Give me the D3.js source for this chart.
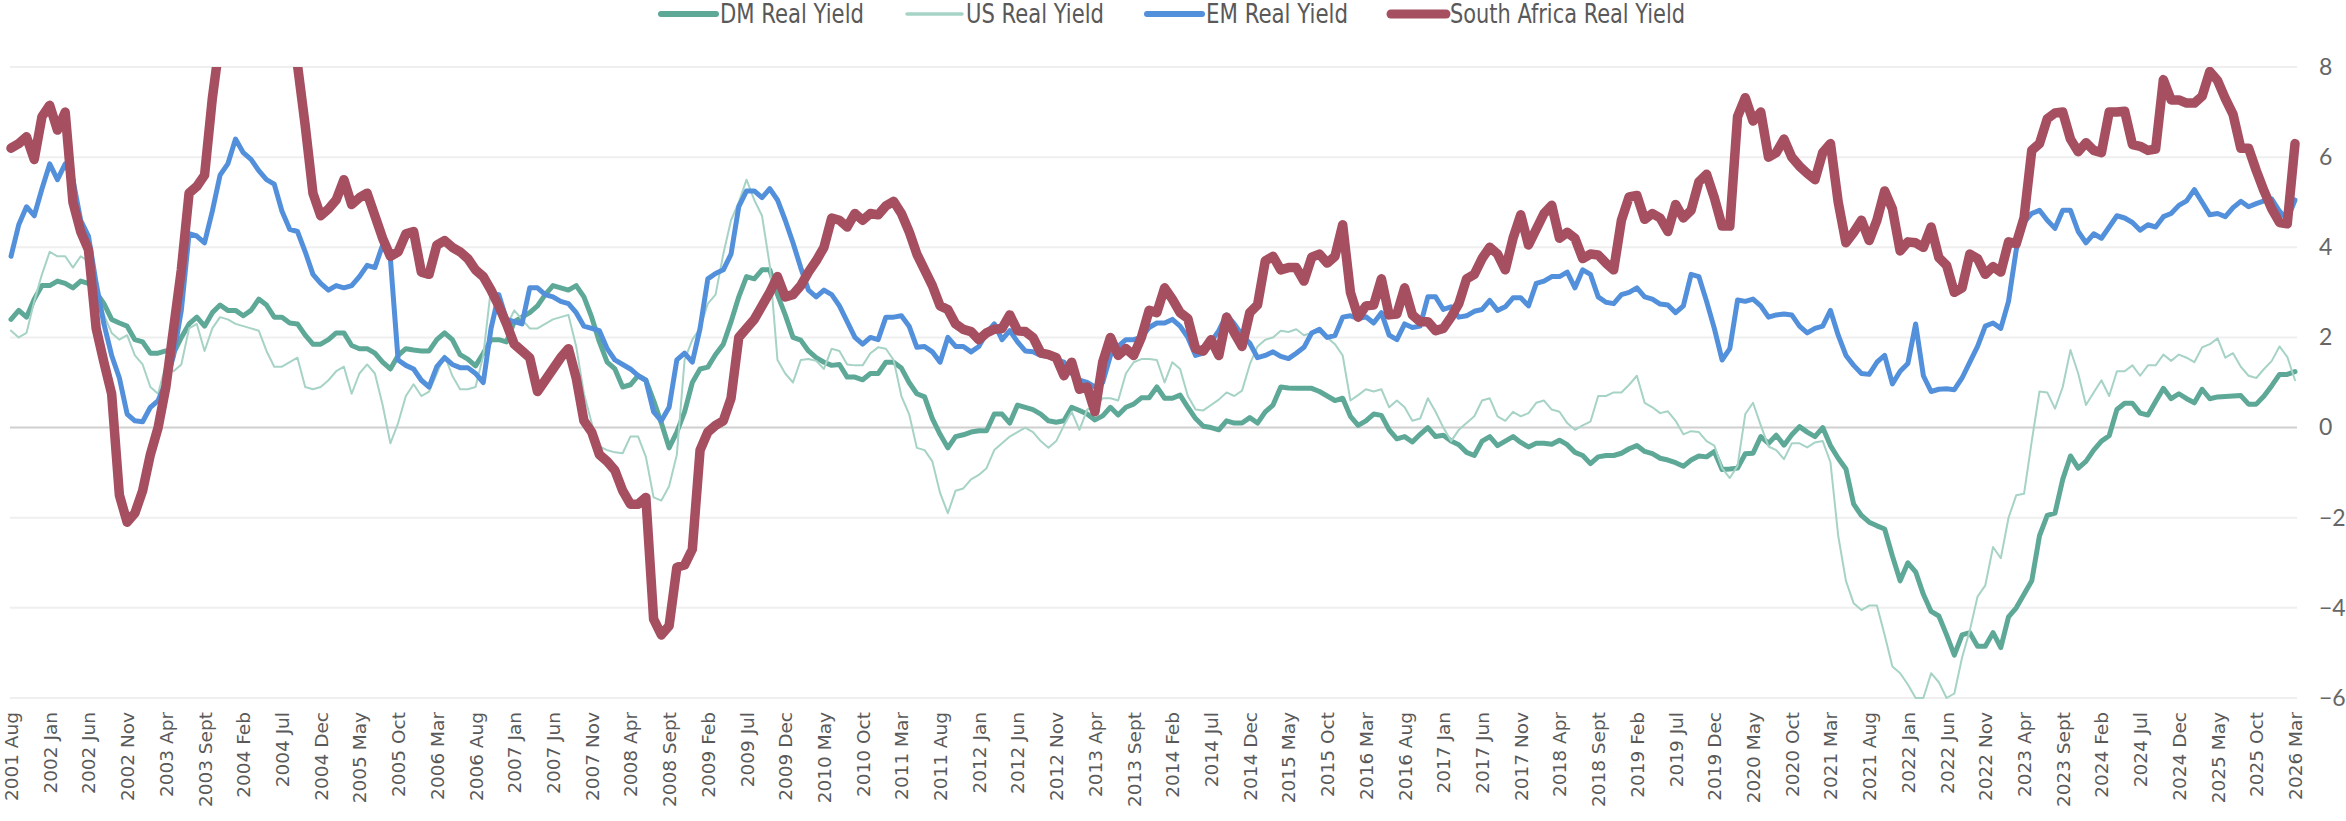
<!DOCTYPE html>
<html>
<head>
<meta charset="utf-8">
<title>Real Yields</title>
<script src="https://cdn.jsdelivr.net/npm/d3@7"></script>
<style>
  html, body { margin: 0; padding: 0; background: #fff; overflow: hidden; }
  svg { display: block; }
  .legend text { fill: #595959; font-family: 'Liberation Sans Narrow', 'DejaVu Sans Condensed', 'Roboto', sans-serif; font-size: 26px; }
</style>
</head>
<body>
<script>
// monthly, 2001 Aug .. 2026 Mar
const startYear = 2001, startMonth = 7, nMonths = 296;
const monthNames = ['Jan', 'Feb', 'Mar', 'Apr', 'May', 'Jun', 'Jul', 'Aug', 'Sept', 'Oct', 'Nov', 'Dec'];

const tickLabels = ['2001 Aug', '2002 Jan', '2002 Jun', '2002 Nov', '2003 Apr', '2003 Sept', '2004 Feb', '2004 Jul',
  '2004 Dec', '2005 May', '2005 Oct', '2006 Mar', '2006 Aug', '2007 Jan', '2007 Jun', '2007 Nov', '2008 Apr',
  '2008 Sept', '2009 Feb', '2009 Jul', '2009 Dec', '2010 May', '2010 Oct', '2011 Mar', '2011 Aug', '2012 Jan',
  '2012 Jun', '2012 Nov', '2013 Apr', '2013 Sept', '2014 Feb', '2014 Jul', '2014 Dec', '2015 May', '2015 Oct',
  '2016 Mar', '2016 Aug', '2017 Jan', '2017 Jun', '2017 Nov', '2018 Apr', '2018 Sept', '2019 Feb', '2019 Jul',
  '2019 Dec', '2020 May', '2020 Oct', '2021 Mar', '2021 Aug', '2022 Jan', '2022 Jun', '2022 Nov', '2023 Apr',
  '2023 Sept', '2024 Feb', '2024 Jul', '2024 Dec', '2025 May', '2025 Oct', '2026 Mar'];

const yTicks = [-6, -4, -2, 0, 2, 4, 6, 8];

const dmReal = [
  2.4, 2.6, 2.45, 2.85, 3.15, 3.15, 3.25, 3.2, 3.1, 3.25,
  3.2, 3.0, 2.75, 2.4, 2.32, 2.25, 1.95, 1.9, 1.65, 1.65,
  1.7, 1.65, 2.0, 2.3, 2.45, 2.25, 2.55, 2.72, 2.6, 2.6,
  2.48, 2.6, 2.85, 2.72, 2.45, 2.45, 2.32, 2.3, 2.05, 1.85,
  1.85, 1.95, 2.1, 2.1, 1.82, 1.75, 1.75, 1.65, 1.45, 1.3,
  1.6, 1.75, 1.72, 1.7, 1.7, 1.95, 2.1, 1.95, 1.62, 1.52,
  1.37, 1.65, 1.95, 1.95, 1.9, 2.35, 2.45, 2.55, 2.7, 2.95,
  3.15, 3.1, 3.05, 3.15, 2.9, 2.45, 1.9, 1.45, 1.3, 0.9,
  0.95, 1.15, 1.05, 0.6, 0.1, -0.45, -0.1, 0.35, 1.0, 1.3,
  1.34, 1.62, 1.85, 2.35, 2.9, 3.35, 3.3, 3.5, 3.5, 2.95,
  2.5, 2.0, 1.94, 1.7, 1.55, 1.45, 1.38, 1.4, 1.12, 1.12,
  1.06, 1.2, 1.2, 1.45, 1.45, 1.32, 1.0, 0.75, 0.68, 0.2,
  -0.15, -0.45, -0.2, -0.16, -0.1, -0.07, -0.07, 0.3, 0.3, 0.1,
  0.5, 0.45, 0.4, 0.3, 0.15, 0.12, 0.15, 0.45, 0.38, 0.3,
  0.17, 0.26, 0.45, 0.28, 0.45, 0.52, 0.66, 0.66, 0.9, 0.65,
  0.65, 0.72, 0.45, 0.2, 0.03, 0.0, -0.05, 0.15, 0.1, 0.1,
  0.22, 0.1, 0.35, 0.5, 0.9, 0.88, 0.87, 0.87, 0.87, 0.8,
  0.7, 0.6, 0.65, 0.25, 0.05, 0.15, 0.3, 0.27, -0.05, -0.25,
  -0.2, -0.32, -0.15, 0.0, -0.2, -0.17, -0.3, -0.38, -0.55, -0.62,
  -0.3, -0.2, -0.4, -0.3, -0.2, -0.33, -0.43, -0.35, -0.35, -0.37,
  -0.28, -0.38, -0.55, -0.62, -0.8, -0.65, -0.62, -0.62, -0.57, -0.47,
  -0.4, -0.53, -0.58, -0.68, -0.72, -0.78, -0.86, -0.72, -0.63, -0.65,
  -0.53, -0.93, -0.92, -0.9, -0.58, -0.57, -0.2, -0.35, -0.17, -0.39,
  -0.16, 0.02, -0.1, -0.2, 0.0, -0.4, -0.68, -0.92, -1.7, -1.95,
  -2.1, -2.18, -2.25, -2.85, -3.4, -3.0, -3.2, -3.7, -4.08, -4.18,
  -4.6, -5.05, -4.6, -4.55, -4.85, -4.85, -4.55, -4.88, -4.2, -4.0,
  -3.7, -3.4, -2.4, -1.95, -1.9, -1.15, -0.63, -0.9, -0.75, -0.5,
  -0.3, -0.18, 0.4, 0.54, 0.54, 0.32, 0.28, 0.58, 0.87, 0.64,
  0.75, 0.64, 0.55, 0.85, 0.64, 0.68, 0.69, 0.7, 0.71, 0.52,
  0.52, 0.7, 0.93, 1.18, 1.18, 1.24];

const usReal = [
  2.15, 2.0, 2.1, 2.8, 3.4, 3.9, 3.8, 3.8, 3.55, 3.8,
  3.7, 3.1, 2.5, 2.1, 1.95, 2.05, 1.6, 1.4, 0.9, 0.75,
  1.4, 1.25, 1.4, 2.2, 2.3, 1.7, 2.2, 2.45, 2.4, 2.3,
  2.25, 2.2, 2.15, 1.7, 1.35, 1.35, 1.45, 1.55, 0.9, 0.85,
  0.9, 1.05, 1.25, 1.35, 0.75, 1.2, 1.4, 1.2, 0.5, -0.35,
  0.1, 0.7, 0.96, 0.7, 0.8, 1.2, 1.6, 1.15, 0.85, 0.85,
  0.9, 1.6, 3.1, 2.6, 2.25, 2.6, 2.4, 2.2, 2.2, 2.3,
  2.4, 2.45, 2.5, 1.8, 0.75, 0.1, -0.42, -0.5, -0.55, -0.57,
  -0.2, -0.2, -0.65, -1.55, -1.62, -1.3, -0.6, 1.5, 1.95, 2.2,
  2.75, 2.95, 3.85, 4.6, 5.0, 5.5, 5.05, 4.7, 3.6, 1.5,
  1.2, 1.0, 1.5, 1.52, 1.48, 1.3, 1.75, 1.7, 1.4, 1.38,
  1.38, 1.65, 1.78, 1.75, 1.5, 0.7, 0.3, -0.45, -0.5, -0.75,
  -1.45, -1.9, -1.4, -1.35, -1.15, -1.05, -0.9, -0.5, -0.35, -0.2,
  -0.1, 0.0, -0.1, -0.3, -0.45, -0.3, 0.05, 0.35, -0.05, 0.4,
  0.45, 0.65, 0.65, 0.6, 1.2, 1.45, 1.52, 1.52, 1.5, 1.0,
  1.45, 1.3, 0.7, 0.4, 0.38, 0.5, 0.62, 0.78, 0.7, 0.82,
  1.4, 1.8, 1.95, 2.0, 2.15, 2.12, 2.18, 2.05, 2.1, 2.12,
  2.0, 1.85, 1.6, 0.6, 0.72, 0.85, 0.8, 0.85, 0.45, 0.6,
  0.45, 0.15, 0.2, 0.65, 0.35, 0.0, -0.3, -0.05, 0.1, 0.25,
  0.6, 0.65, 0.25, 0.15, 0.35, 0.25, 0.32, 0.55, 0.6, 0.4,
  0.35, 0.1, -0.05, 0.05, 0.13, 0.7, 0.7, 0.78, 0.78, 0.95,
  1.15, 0.55, 0.45, 0.32, 0.36, 0.15, -0.15, -0.08, -0.1, -0.3,
  -0.4, -0.9, -1.12, -0.85, 0.3, 0.55, 0.05, -0.42, -0.5, -0.7,
  -0.35, -0.35, -0.44, -0.33, -0.3, -0.77, -2.4, -3.4, -3.9, -4.05,
  -3.95, -3.95, -4.6, -5.3, -5.45, -5.7, -6.0, -6.0, -5.45, -5.65,
  -6.0, -5.9, -5.1, -4.5, -3.75, -3.5, -2.65, -2.9, -2.0, -1.5,
  -1.47, -0.3, 0.8, 0.78, 0.42, 0.9, 1.72, 1.2, 0.5, 0.78,
  1.05, 0.7, 1.25, 1.25, 1.38, 1.15, 1.38, 1.38, 1.62, 1.48,
  1.62, 1.55, 1.45, 1.78, 1.85, 1.98, 1.55, 1.65, 1.35, 1.15,
  1.1, 1.3, 1.48, 1.8, 1.57, 1.05];

const emReal = [
  3.8, 4.5, 4.9, 4.7, 5.3, 5.85, 5.5, 5.85, 5.5, 4.6,
  4.25, 3.2, 2.3, 1.6, 1.1, 0.3, 0.15, 0.13, 0.45, 0.6,
  1.0, 1.6, 2.6, 4.3, 4.25, 4.1, 4.8, 5.6, 5.85, 6.4,
  6.1, 5.95, 5.7, 5.5, 5.4, 4.8, 4.4, 4.35, 3.9, 3.4,
  3.2, 3.05, 3.15, 3.1, 3.15, 3.35, 3.6, 3.55, 4.05, 3.75,
  1.5, 1.38, 1.3, 1.05, 0.9, 1.35, 1.55, 1.4, 1.33, 1.33,
  1.2, 1.0, 2.2, 2.95, 2.4, 2.35, 2.3, 3.1, 3.1, 2.95,
  2.9, 2.8, 2.75, 2.55, 2.25, 2.2, 2.15, 1.75, 1.5, 1.4,
  1.3, 1.15, 1.05, 0.35, 0.15, 0.45, 1.5, 1.65, 1.45, 2.2,
  3.3, 3.42, 3.5, 3.85, 4.9, 5.25, 5.25, 5.1, 5.3, 5.05,
  4.6, 4.1, 3.55, 3.05, 2.9, 3.05, 2.95, 2.7, 2.35, 2.0,
  1.85, 2.0, 1.95, 2.45, 2.45, 2.48, 2.25, 1.78, 1.8, 1.68,
  1.45, 2.0, 1.8, 1.8, 1.68, 1.8, 2.1, 2.3, 1.95, 2.15,
  1.9, 1.7, 1.68, 1.6, 1.58, 1.5, 1.45, 1.2, 1.05, 1.0,
  0.9, 1.0, 1.6, 1.8, 1.95, 1.95, 2.0, 2.22, 2.32, 2.32,
  2.4, 2.25, 2.0, 1.6, 1.65, 1.9, 2.15, 2.5, 2.3, 2.05,
  1.87, 1.55, 1.6, 1.68, 1.58, 1.53, 1.65, 1.78, 2.1, 2.18,
  2.0, 2.04, 2.45, 2.48, 2.42, 2.46, 2.32, 2.55, 2.05, 1.95,
  2.3, 2.22, 2.25, 2.9, 2.9, 2.62, 2.68, 2.45, 2.48, 2.58,
  2.62, 2.82, 2.6, 2.68, 2.88, 2.88, 2.7, 3.2, 3.25, 3.35,
  3.35, 3.45, 3.1, 3.5, 3.4, 2.9, 2.78, 2.75, 2.95, 3.0,
  3.1, 2.9, 2.85, 2.74, 2.72, 2.55, 2.7, 3.4, 3.35, 2.8,
  2.2, 1.5, 1.75, 2.83, 2.8, 2.85, 2.7, 2.45, 2.5, 2.52,
  2.5, 2.25, 2.1, 2.2, 2.25, 2.6, 2.05, 1.6, 1.38, 1.2,
  1.18, 1.45, 1.6, 0.97, 1.25, 1.42, 2.3, 1.15, 0.8, 0.85,
  0.86, 0.84, 1.1, 1.45, 1.8, 2.25, 2.32, 2.2, 2.8, 3.95,
  4.55, 4.75, 4.82, 4.6, 4.42, 4.82, 4.82, 4.35, 4.1, 4.3,
  4.2, 4.45, 4.7, 4.65, 4.55, 4.38, 4.5, 4.45, 4.68, 4.75,
  4.93, 5.03, 5.28, 5.0, 4.72, 4.75, 4.68, 4.88, 5.02, 4.9,
  4.97, 5.03, 5.07, 4.8, 4.62, 5.05];

const saReal = [
  6.2, 6.3, 6.45, 5.95, 6.9, 7.15, 6.6, 7.0, 5.0, 4.35,
  3.95, 2.2, 1.45, 0.75, -1.5, -2.1, -1.9, -1.4, -0.6, 0.0,
  0.9, 2.2, 3.5, 5.2, 5.35, 5.6, 7.3, 8.6, 9.5, 10.2,
  10.8, 11.0, 10.6, 10.0, 9.6, 9.2, 8.8, 8.05, 6.7, 5.2,
  4.7, 4.85, 5.05, 5.5, 4.95, 5.1, 5.2, 4.7, 4.2, 3.8,
  3.9, 4.3, 4.35, 3.45, 3.4, 4.05, 4.15, 4.0, 3.9, 3.75,
  3.5, 3.35, 3.05, 2.7, 2.3, 1.85, 1.7, 1.55, 0.8, 1.05,
  1.3, 1.55, 1.75, 1.1, 0.15, -0.1, -0.6, -0.75, -0.95, -1.4,
  -1.7, -1.7, -1.55, -4.25, -4.6, -4.4, -3.1, -3.05, -2.7, -0.5,
  -0.1, 0.05, 0.15, 0.65, 2.0, 2.2, 2.4, 2.7, 3.0, 3.35,
  2.9, 2.95, 3.15, 3.45, 3.7, 4.0, 4.65, 4.6, 4.45, 4.75,
  4.6, 4.75, 4.72, 4.92, 5.02, 4.75, 4.35, 3.85, 3.5, 3.15,
  2.7, 2.62, 2.3, 2.18, 2.13, 1.95, 2.1, 2.18, 2.2, 2.5,
  2.15, 2.13, 2.0, 1.66, 1.62, 1.55, 1.15, 1.45, 0.85, 0.9,
  0.35, 1.45, 2.0, 1.6, 1.75, 1.6, 2.0, 2.6, 2.55, 3.1,
  2.85, 2.55, 2.42, 1.75, 1.7, 1.95, 1.6, 2.45, 2.1, 1.8,
  2.55, 2.72, 3.7, 3.8, 3.5, 3.55, 3.55, 3.25, 3.78, 3.85,
  3.65, 3.8, 4.5, 3.0, 2.45, 2.7, 2.72, 3.3, 2.5, 2.52,
  3.1, 2.5, 2.35, 2.35, 2.15, 2.2, 2.45, 2.75, 3.3, 3.4,
  3.75, 4.0, 3.85, 3.5, 4.2, 4.72, 4.05, 4.4, 4.75, 4.93,
  4.2, 4.33, 4.2, 3.75, 3.85, 3.83, 3.65, 3.5, 4.6, 5.12,
  5.15, 4.62, 4.75, 4.65, 4.35, 4.95, 4.65, 4.82, 5.45, 5.62,
  5.1, 4.47, 4.47, 6.9, 7.32, 6.8, 7.0, 6.0, 6.1, 6.4,
  6.0, 5.8, 5.64, 5.5, 6.1, 6.3, 5.0, 4.1, 4.33, 4.6,
  4.15, 4.6, 5.25, 4.85, 3.92, 4.12, 4.1, 4.0, 4.45, 3.77,
  3.6, 3.0, 3.1, 3.85, 3.75, 3.4, 3.57, 3.45, 4.12, 4.08,
  4.65, 6.15, 6.3, 6.85, 6.98, 7.0, 6.4, 6.12, 6.32, 6.15,
  6.1, 7.0, 7.0, 7.02, 6.28, 6.24, 6.15, 6.18, 7.72, 7.27,
  7.27, 7.2, 7.2, 7.35, 7.9, 7.7, 7.3, 6.95, 6.2, 6.2,
  5.7, 5.25, 4.85, 4.55, 4.52, 6.3];

// month keys in the same style as the tick labels
const months = d3.range(nMonths).map(i => {
    const m = startMonth + i;
    return `${startYear + Math.floor(m / 12)} ${monthNames[m % 12]}`;
});

const series = [
    { name: 'DM Real Yield', values: dmReal, color: '#5ea898', width: 5, swatch: 6, textW: 144 },
    { name: 'US Real Yield', values: usReal, color: '#a6d3c6', width: 2, swatch: 3.5, textW: 138 },
    { name: 'EM Real Yield', values: emReal, color: '#5390db', width: 5, swatch: 6, textW: 142 },
    { name: 'South Africa Real Yield', values: saReal, color: '#a54f61', width: 9.5, swatch: 9, textW: 235 }
];

// page setup
const width = 2346, height = 821;
const plot = { left: 10, right: 2297, top: 67, bottom: 698 };

const svg = d3.select('body').append('svg')
    .attr('width', width)
    .attr('height', height);

const x = d3.scalePoint()
    .domain(months)
    .range([11, 2295]);

const y = d3.scaleLinear()
    .domain([-6, 8])
    .range([plot.bottom, plot.top]);

// gridlines
svg.append('g')
    .selectAll('line')
    .data(yTicks)
    .join('line')
    .attr('x1', plot.left)
    .attr('x2', plot.right)
    .attr('y1', d => y(d))
    .attr('y2', d => y(d))
    .attr('stroke', d => d === 0 ? '#cfcfcf' : '#efefef')
    .attr('stroke-width', 2);

// right axis labels
svg.append('g')
    .attr('transform', `translate(${plot.right + 12},0)`)
    .call(d3.axisRight(y).tickValues(yTicks).tickSize(0).tickPadding(10).tickFormat(d3.format('d')))
    .call(g => g.select('.domain').remove())
    .selectAll('text')
    .attr('font-family', 'Lato, sans-serif')
    .attr('font-size', 23)
    .attr('fill', '#666');

// bottom axis labels, rotated
svg.append('g')
    .attr('transform', `translate(0,${plot.bottom})`)
    .call(d3.axisBottom(x).tickValues(tickLabels).tickSize(0))
    .call(g => g.select('.domain').remove())
    .selectAll('text')
    .attr('font-family', 'DejaVu Sans, sans-serif')
    .attr('font-size', 18.5)
    .attr('fill', '#595959')
    .attr('text-anchor', 'end')
    .attr('x', -14)
    .attr('y', 0)
    .attr('dy', '0.35em')
    .attr('transform', 'rotate(-90)');

// lines, clipped to the plot area
svg.append('clipPath').attr('id', 'plot-clip')
    .append('rect')
    .attr('x', 0).attr('y', plot.top)
    .attr('width', width).attr('height', plot.bottom - plot.top + 8);

const line = d3.line()
    .x((d, i) => x(months[i]))
    .y(d => y(d));

svg.append('g')
    .attr('clip-path', 'url(#plot-clip)')
    .selectAll('path')
    .data(series)
    .join('path')
    .attr('fill', 'none')
    .attr('stroke', d => d.color)
    .attr('stroke-width', d => d.width)
    .attr('stroke-linejoin', 'round')
    .attr('stroke-linecap', 'round')
    .attr('d', d => line(d.values));

// legend, centred on top
const legend = svg.append('g').attr('class', 'legend');
const swatchW = 55, gapText = 4, gapItem = 43;
const items = legend.selectAll('g')
    .data(series)
    .join('g');
items.append('line')
    .attr('x1', 0).attr('x2', swatchW)
    .attr('y1', 0).attr('y2', 0)
    .attr('stroke', d => d.color)
    .attr('stroke-width', d => d.swatch)
    .attr('stroke-linecap', 'round');
items.append('text')
    .attr('x', swatchW + gapText)
    .attr('dy', '0.35em')
    .attr('textLength', d => d.textW)
    .attr('lengthAdjust', 'spacingAndGlyphs')
    .text(d => d.name);

let offset = 0;
items.each(function (d) {
    d3.select(this).attr('transform', `translate(${offset},0)`);
    offset += swatchW + gapText + d.textW + gapItem;
});
offset -= gapItem;
legend.attr('transform', `translate(${(width - offset) / 2},14)`);
</script>
</body>
</html>
